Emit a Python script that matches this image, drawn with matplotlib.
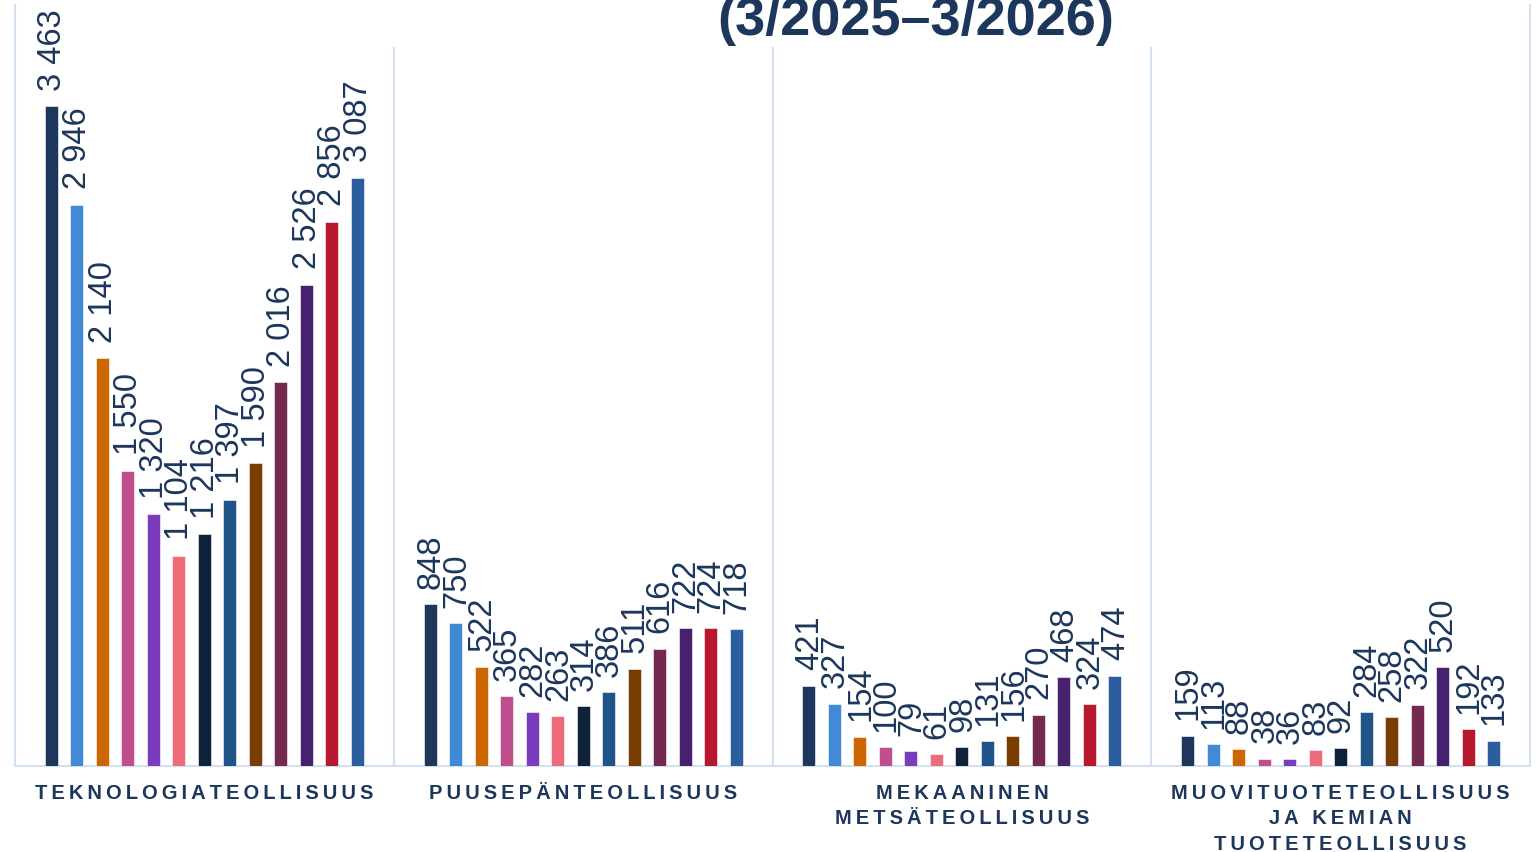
import matplotlib
matplotlib.use("Agg")
import matplotlib.pyplot as plt
import numpy as np

plt.rcParams['font.family'] = ['Liberation Sans', 'DejaVu Sans']

# Toimialat (kategoriat) ja kuukausittaiset arvot 3/2025-3/2026
categories = ['TEKNOLOGIATEOLLISUUS', 'PUUSEPÄNTEOLLISUUS',
              'MEKAANINEN\nMETSÄTEOLLISUUS',
              'MUOVITUOTETEOLLISUUS\nJA KEMIAN\nTUOTETEOLLISUUS']
months = ['3/2025', '4/2025', '5/2025', '6/2025', '7/2025', '8/2025', '9/2025',
          '10/2025', '11/2025', '12/2025', '1/2026', '2/2026', '3/2026']
teknologia = [3463, 2946, 2140, 1550, 1320, 1104, 1216, 1397, 1590, 2016, 2526, 2856, 3087]
puusepanteollisuus = [848, 750, 522, 365, 282, 263, 314, 386, 511, 616, 722, 724, 718]
metsateollisuus = [421, 327, 154, 100, 79, 61, 98, 131, 156, 270, 468, 324, 474]
muovi_kemia = [159, 113, 88, 38, 36, 83, 92, 284, 258, 322, 520, 192, 133]

month_colors = ['#1c365c', '#418ad6', '#cc6600', '#c04d8c', '#7a3bbd', '#ee6c7a',
                '#10213a', '#1f5489', '#773e00', '#74294f', '#47206e', '#b8182e',
                '#2c5d9e']

navy = '#1c365c'
grid_col = '#d3e0f0'

W, H = 1537, 852
fig = plt.figure(figsize=(W / 100, H / 100), dpi=100)
ax = fig.add_axes([15 / W, 86 / H, 1515 / W, 761 / H])

series = [teknologia, puusepanteollisuus, metsateollisuus, muovi_kemia]
data = np.array(series)  # rows = categories, cols = months
x = np.arange(len(categories))
step = 0.0673
width = 0.0345

for j, month in enumerate(months):
    pos = x + (j - 6) * step
    vals = data[:, j]
    bars = ax.bar(pos, vals, width=width, color=month_colors[j], label=month,
                  edgecolor='white', linewidth=0.4, zorder=3)
    for b, v in zip(bars, vals):
        ax.annotate(f"{v:,}".replace(",", " "),
                    (b.get_x() + b.get_width() / 2 + 0.002, v),
                    xytext=(0, 11), textcoords='offset points',
                    rotation=90, ha='center', va='bottom',
                    fontsize=23.5, color=navy, clip_on=False, zorder=4)

ymax = 3993
ax.set_xlim(-0.5, 3.5)
ax.set_ylim(0, ymax)

# jakoviivat kategorioiden välissä
ax.vlines([0.5, 1.5, 2.5], 0, 3772, color=grid_col, linewidth=1.5, zorder=1)

ax.spines['top'].set_visible(False)
for side in ['left', 'right', 'bottom']:
    ax.spines[side].set_color(grid_col)
    ax.spines[side].set_linewidth(1.5)

ax.set_yticks([])
ax.set_xticks([])

# kategorioiden nimet harvennetulla kirjainvälillä
for xi, cat in zip(x, categories):
    lines = ['\u2009'.join(list(line)) for line in cat.split('\n')]
    ax.text(xi, -0.023, '\n'.join(lines), transform=ax.get_xaxis_transform(),
            ha='center', va='top', fontsize=14.5, fontweight='bold',
            color=navy, linespacing=1.45, multialignment='center')

fig.text(916 / W, 1 - 35 / H, '(3/2025\u20133/2026)', ha='center',
         va='baseline', fontsize=39, fontweight='bold', color=navy)

fig.savefig('out.png', dpi=100)
